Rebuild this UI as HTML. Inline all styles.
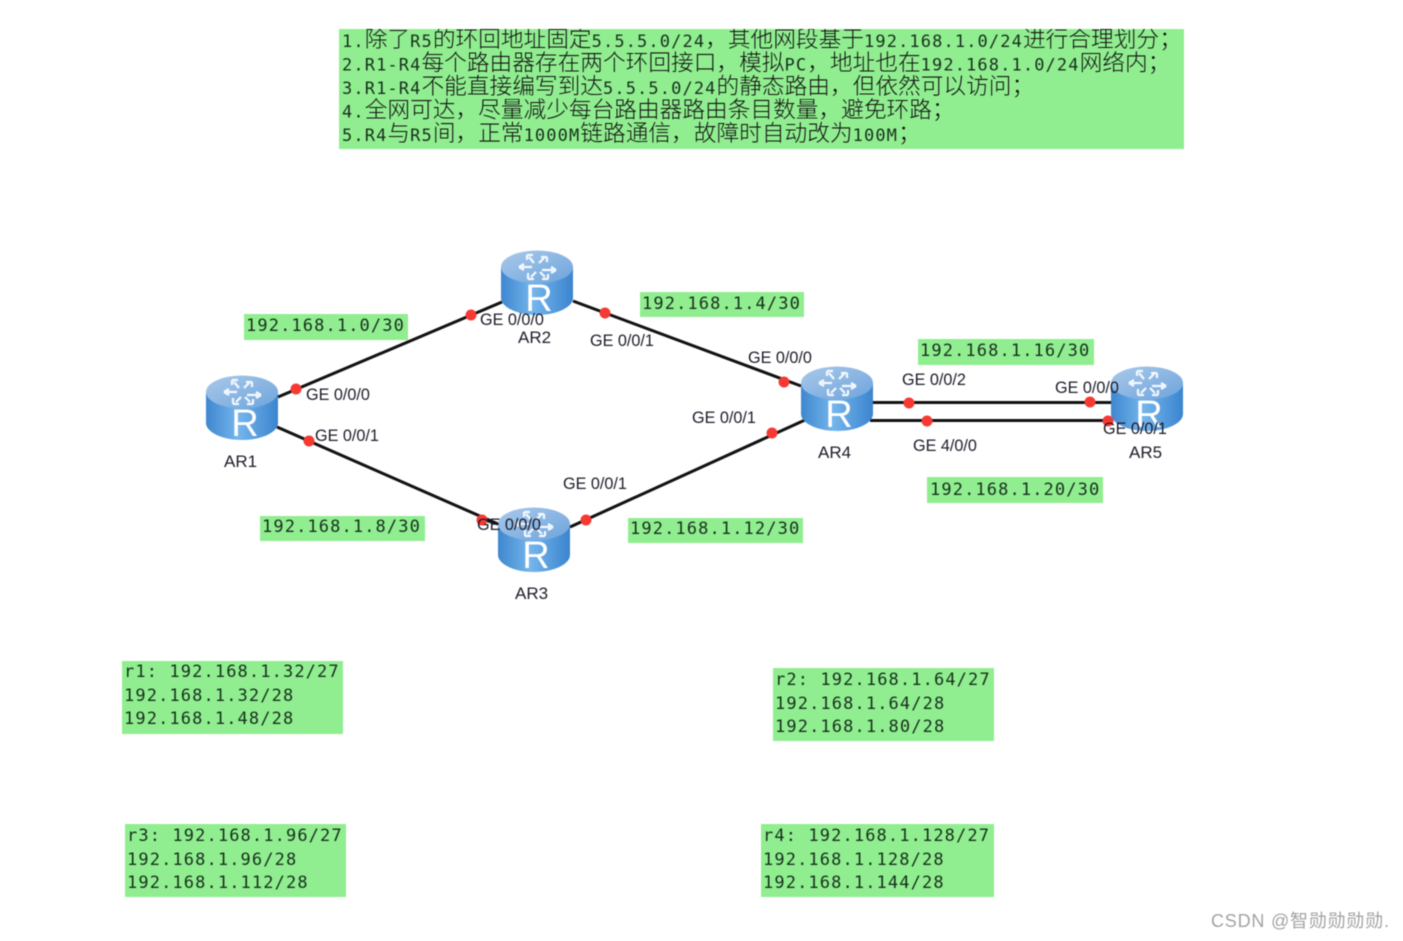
<!DOCTYPE html>
<html><head><meta charset="utf-8"><style>
html,body{margin:0;padding:0;background:#fff;width:1403px;height:941px;overflow:hidden}
svg{display:block;filter:blur(.4px)}
.m{font:17px "DejaVu Sans Mono","Liberation Mono","Noto Sans CJK SC",monospace;letter-spacing:1.12px;fill:#17301c}
.c{font:22.7px "Noto Sans CJK SC","WenQuanYi Zen Hei",sans-serif;font-weight:300;letter-spacing:0;fill:#111}
.g{font:16.2px "Liberation Sans",sans-serif;fill:#1c1c2a}
.a{font-size:17px}
.b{fill:#90ee90}
.w{font:18px "Liberation Sans","Noto Sans CJK SC",sans-serif;fill:#a3a3a3}
.l{stroke:#111;stroke-width:3;fill:none}
.d{fill:#f63a33}
.r{font:38px "Liberation Sans",sans-serif;fill:#fff;text-anchor:middle}
</style></head><body>
<svg width="1403" height="941" viewBox="0 0 1403 941" xmlns="http://www.w3.org/2000/svg">
<defs>
<clipPath id="cp"><rect x="339" y="29" width="845" height="120"/></clipPath>
<linearGradient id="s" x1="0" x2="1" y1="0" y2="0"><stop offset="0" stop-color="#3f87cf"/><stop offset=".45" stop-color="#74b5ec"/><stop offset="1" stop-color="#3b84cf"/></linearGradient>
<linearGradient id="t" x1="0" x2="1" y1="0" y2="1"><stop offset="0" stop-color="#a9c9ea"/><stop offset="1" stop-color="#6ea4dc"/></linearGradient>
<g id="rt">
<path d="M0 17V48C0 57 16 65 36 65S72 57 72 48V17Z" fill="url(#s)"/>
<ellipse cx="36" cy="17" rx="36" ry="16.5" fill="url(#t)"/>
<g stroke="#f4f9ff" stroke-width="2.2" fill="none">
<path d="M21 17H31M18 17l5-3M18 17l5 3"/>
<path d="M41 20H52M55 20l-5-3M55 20l-5 3"/>
<path d="M28 7l5 6M26 5h6M26 5v5"/>
<path d="M44 27l-5-5M47 29h-6M47 29v-5"/>
<path d="M43 8l-5 5M46 7h-6M46 7v5" />
<path d="M30 27l5-5M27 29h6M27 29v-6" />
</g>
</g>
</defs>

<rect class="b" x="339" y="29" width="845" height="120"/>
<g clip-path="url(#cp)">
<text y="47"><tspan class="m" x="342">1.</tspan><tspan class="c">除了</tspan><tspan class="m">R5</tspan><tspan class="c">的环回地址固定</tspan><tspan class="m">5.5.5.0/24</tspan><tspan class="c">，其他网段基于</tspan><tspan class="m">192.168.1.0/24</tspan><tspan class="c">进行合理划分；</tspan></text>
<text y="70.5"><tspan class="m" x="342">2.R1-R4</tspan><tspan class="c">每个路由器存在两个环回接口，模拟</tspan><tspan class="m">PC</tspan><tspan class="c">，地址也在</tspan><tspan class="m">192.168.1.0/24</tspan><tspan class="c">网络内；</tspan></text>
<text y="94"><tspan class="m" x="342">3.R1-R4</tspan><tspan class="c">不能直接编写到达</tspan><tspan class="m">5.5.5.0/24</tspan><tspan class="c">的静态路由，但依然可以访问；</tspan></text>
<text y="117.5"><tspan class="m" x="342">4.</tspan><tspan class="c">全网可达，尽量减少每台路由器路由条目数量，避免环路；</tspan></text>
<text y="141"><tspan class="m" x="342">5.R4</tspan><tspan class="c">与</tspan><tspan class="m">R5</tspan><tspan class="c">间，正常</tspan><tspan class="m">1000M</tspan><tspan class="c">链路通信，故障时自动改为</tspan><tspan class="m">100M</tspan><tspan class="c">；</tspan></text>
</g>

<rect class="b" x="244" y="314" width="164" height="26"/><text class="m" x="246" y="331">192.168.1.0/30</text>
<rect class="b" x="640" y="292" width="164" height="25"/><text class="m" x="642" y="309">192.168.1.4/30</text>
<rect class="b" x="918" y="339" width="176" height="26"/><text class="m" x="920" y="356">192.168.1.16/30</text>
<rect class="b" x="927" y="477" width="176" height="26"/><text class="m" x="930" y="495">192.168.1.20/30</text>
<rect class="b" x="260" y="516" width="165" height="25"/><text class="m" x="262" y="532">192.168.1.8/30</text>
<rect class="b" x="628" y="518" width="175" height="25"/><text class="m" x="630" y="534">192.168.1.12/30</text>

<path class="l" d="M278 397L502 302"/>
<path class="l" d="M277 427L498 524"/>
<path class="l" d="M573 301L801 386"/>
<path class="l" d="M570 527L805 420"/>
<path class="l" d="M873 402.5H1111"/>
<path class="l" d="M870 420.5H1111"/>

<use href="#rt" x="206" y="375"/><text class="r" x="245" y="436">R</text>
<use href="#rt" x="501" y="250"/><text class="r" x="539" y="311">R</text>
<use href="#rt" x="498" y="507"/><text class="r" x="536" y="568">R</text>
<use href="#rt" x="801" y="366"/><text class="r" x="839" y="427">R</text>
<use href="#rt" x="1111" y="366"/><text class="r" x="1149" y="427">R</text>

<path class="l" d="M478 518L498 524"/>
<g class="d">
<circle cx="296" cy="389" r="5.5"/><circle cx="471" cy="315" r="5.5"/>
<circle cx="309" cy="441" r="5.5"/><circle cx="482" cy="520" r="5.5"/>
<circle cx="605" cy="313" r="5.5"/><circle cx="784" cy="382" r="5.5"/>
<circle cx="586" cy="520" r="5.5"/><circle cx="772" cy="433" r="5.5"/>
<circle cx="909" cy="403" r="5.5"/><circle cx="1090" cy="402" r="5.5"/>
<circle cx="927" cy="421" r="5.5"/><circle cx="1108" cy="421" r="5.5"/>
</g>

<g class="g">
<text x="306" y="400">GE 0/0/0</text>
<text x="315" y="441">GE 0/0/1</text>
<text x="480" y="325">GE 0/0/0</text>
<text x="590" y="346">GE 0/0/1</text>
<text x="748" y="363">GE 0/0/0</text>
<text x="692" y="423">GE 0/0/1</text>
<text x="563" y="489">GE 0/0/1</text>
<text x="477" y="530">GE 0/0/0</text>
<text x="902" y="385">GE 0/0/2</text>
<text x="913" y="451">GE 4/0/0</text>
<text x="1055" y="393">GE 0/0/0</text>
<text x="1103" y="434">GE 0/0/1</text>
<text class="a" x="224" y="467">AR1</text>
<text class="a" x="518" y="343">AR2</text>
<text class="a" x="515" y="599">AR3</text>
<text class="a" x="818" y="458">AR4</text>
<text class="a" x="1129" y="458">AR5</text>
</g>

<rect class="b" x="122" y="661" width="221" height="73"/>
<text class="m" x="124" y="677">r1: 192.168.1.32/27</text>
<text class="m" x="124" y="701">192.168.1.32/28</text>
<text class="m" x="124" y="724">192.168.1.48/28</text>

<rect class="b" x="773" y="668" width="221" height="73"/>
<text class="m" x="775" y="685">r2: 192.168.1.64/27</text>
<text class="m" x="775" y="709">192.168.1.64/28</text>
<text class="m" x="775" y="732">192.168.1.80/28</text>

<rect class="b" x="125" y="824" width="221" height="73"/>
<text class="m" x="127" y="841">r3: 192.168.1.96/27</text>
<text class="m" x="127" y="865">192.168.1.96/28</text>
<text class="m" x="127" y="888">192.168.1.112/28</text>

<rect class="b" x="761" y="824" width="233" height="73"/>
<text class="m" x="763" y="841">r4: 192.168.1.128/27</text>
<text class="m" x="763" y="865">192.168.1.128/28</text>
<text class="m" x="763" y="888">192.168.1.144/28</text>

<text class="w" x="1211" y="927" textLength="178">CSDN @智勋勋勋勋.</text>
</svg>
</body></html>
